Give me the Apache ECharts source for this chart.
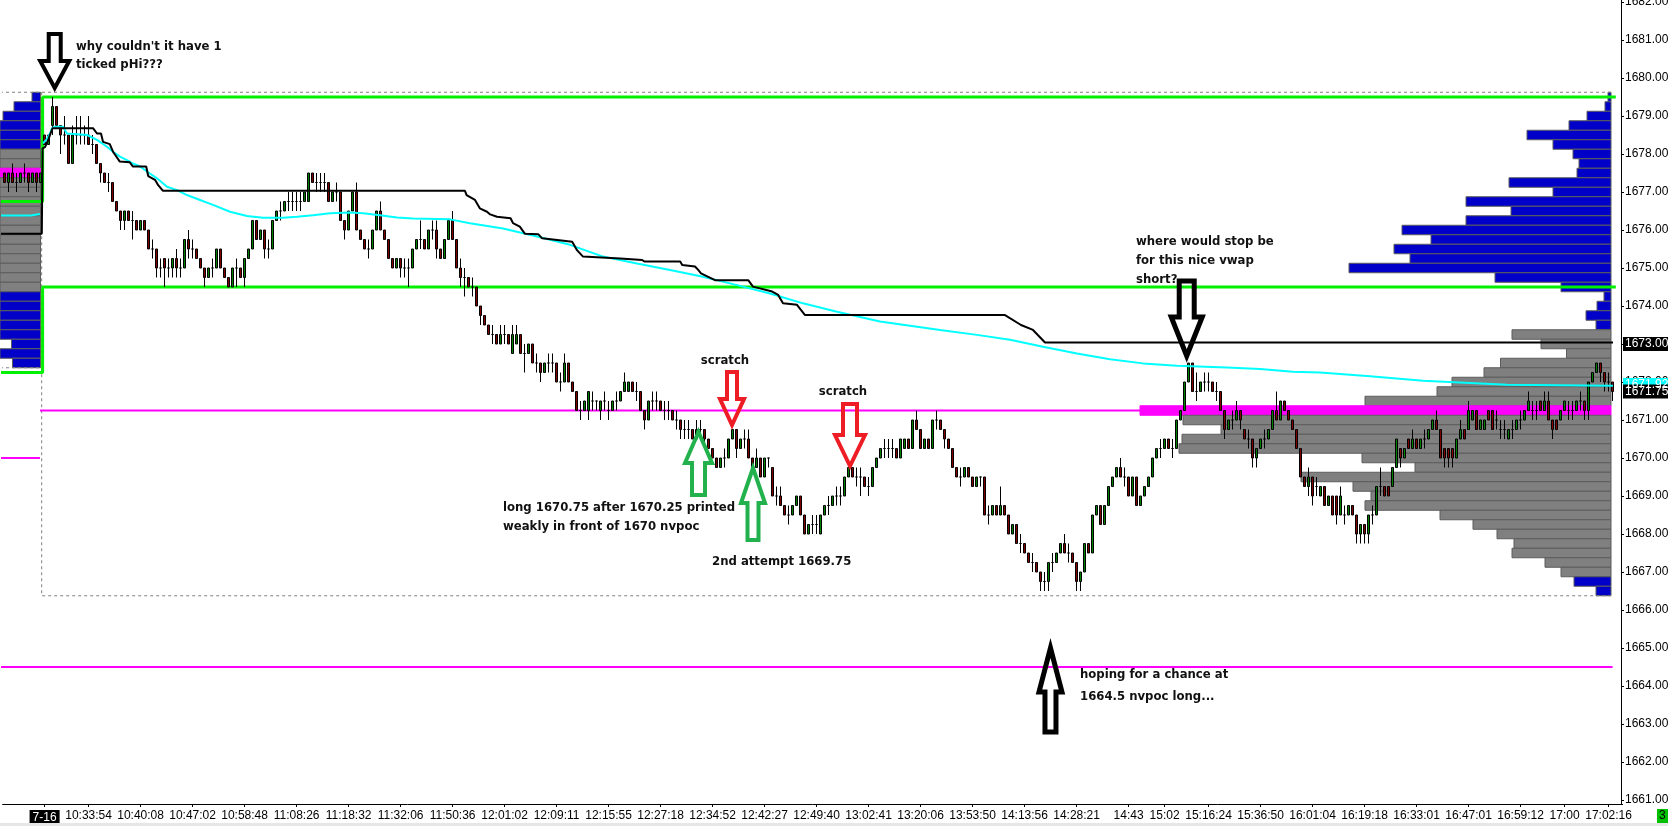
<!DOCTYPE html>
<html><head><meta charset="utf-8">
<script src="https://cdn.jsdelivr.net/npm/echarts/dist/echarts.min.js"></script>
<style>html,body{margin:0;padding:0;background:#fff;overflow:hidden}#c{width:1668px;height:826px}</style>
</head><body><div id="c"></div>
<script>
// ---- DATA ----
// candles [open, close, low, high], one per tick-bar slot (index 0..402)
const candles = [
[1677.5,1677.25,1677.25,1677.5],[1677.25,1677.5,1677.0,1677.5],[1677.5,1677.25,1677.25,1677.75],[1677.25,1677.25,1677.0,1677.5],[1677.25,1677.5,1677.25,1677.5],
[1677.5,1677.5,1677.25,1677.75],[1677.5,1677.25,1677.0,1677.5],[1677.25,1677.5,1677.25,1677.5],[1677.5,1677.25,1677.0,1677.5],[1677.25,1677.5,1677.25,1677.5],
[1678.5,1678.25,1678.25,1678.5],[1678.25,1678.5,1678.25,1678.5],[1678.75,1679.25,1678.5,1679.5],[1679.25,1678.75,1678.75,1679.25],[1678.75,1678.5,1678.0,1678.75],
[1678.5,1678.5,1678.25,1679.0],[1678.5,1677.75,1677.75,1678.5],[1677.75,1678.5,1677.75,1678.75],[1678.5,1678.5,1678.25,1679.0],[1678.5,1678.5,1678.25,1679.0],
[1678.5,1678.5,1678.25,1678.75],[1678.5,1678.25,1678.25,1679.0],[1678.25,1678.25,1678.0,1678.5],[1678.25,1677.75,1677.75,1678.25],[1677.75,1677.5,1677.25,1677.75],
[1677.5,1677.25,1677.25,1677.5],[1677.25,1677.25,1677.0,1677.5],[1677.25,1676.75,1676.75,1677.25],[1676.75,1676.5,1676.5,1676.75],[1676.5,1676.25,1676.0,1676.5],
[1676.25,1676.5,1676.0,1676.5],[1676.5,1676.25,1676.25,1676.5],[1676.25,1676.25,1675.75,1676.5],[1676.25,1676.0,1676.0,1676.25],[1676.0,1676.25,1676.0,1676.25],
[1676.25,1676.0,1676.0,1676.25],[1676.0,1675.5,1675.5,1676.0],[1675.5,1675.5,1675.25,1675.75],[1675.5,1675.0,1674.75,1675.5],[1675.0,1675.0,1674.75,1675.25],
[1675.25,1675.0,1674.5,1675.25],[1675.0,1675.0,1674.75,1675.25],[1675.0,1675.25,1674.75,1675.25],[1675.25,1675.0,1674.75,1675.5],[1675.0,1675.0,1674.75,1675.25],
[1675.0,1675.75,1675.0,1675.75],[1675.75,1675.5,1675.25,1676.0],[1675.5,1675.5,1675.25,1675.75],[1675.5,1675.25,1675.25,1675.5],[1675.25,1675.0,1675.0,1675.25],
[1675.0,1674.75,1674.5,1675.0],[1674.75,1675.0,1674.75,1675.0],[1675.0,1675.0,1674.75,1675.25],[1675.0,1675.5,1675.0,1675.5],[1675.5,1675.0,1675.0,1675.5],
[1675.0,1674.75,1674.75,1675.0],[1674.75,1674.5,1674.5,1674.75],[1674.5,1675.0,1674.5,1675.0],[1675.0,1675.0,1674.5,1675.25],[1675.0,1674.75,1674.75,1675.0],
[1674.75,1675.25,1674.5,1675.25],[1675.25,1675.5,1675.25,1675.5],[1675.5,1676.25,1675.5,1676.25],[1676.25,1675.75,1675.75,1676.25],[1675.75,1676.0,1675.75,1676.0],
[1676.0,1675.5,1675.25,1676.0],[1675.5,1675.5,1675.25,1675.75],[1675.5,1676.25,1675.5,1676.25],[1676.25,1676.5,1676.25,1676.5],[1676.5,1676.5,1676.25,1676.75],
[1676.5,1676.75,1676.5,1676.75],[1676.75,1676.75,1676.5,1677.0],[1676.75,1676.75,1676.5,1677.0],[1676.75,1676.75,1676.5,1677.0],[1676.75,1676.75,1676.5,1677.0],
[1676.75,1677.0,1676.75,1677.0],[1676.75,1677.5,1676.75,1677.5],[1677.5,1677.25,1677.25,1677.5],[1677.25,1677.25,1677.0,1677.5],[1677.25,1677.25,1677.0,1677.5],
[1677.25,1677.25,1677.0,1677.5],[1677.25,1676.75,1676.75,1677.25],[1676.75,1677.0,1676.75,1677.0],[1677.0,1677.0,1676.75,1677.25],[1677.0,1676.25,1676.25,1677.0],
[1676.25,1676.0,1675.75,1676.25],[1676.0,1676.5,1676.0,1676.5],[1676.5,1677.0,1676.5,1677.0],[1677.0,1676.0,1676.0,1677.25],[1676.0,1675.75,1675.75,1676.0],
[1675.75,1675.5,1675.5,1675.75],[1675.5,1675.5,1675.25,1675.75],[1675.5,1676.0,1675.5,1676.0],[1676.0,1676.5,1676.0,1676.5],[1676.5,1676.0,1676.0,1676.75],
[1676.0,1675.75,1675.75,1676.0],[1675.75,1675.25,1675.25,1675.75],[1675.25,1675.0,1675.0,1675.25],[1675.0,1675.25,1675.0,1675.25],[1675.25,1675.0,1674.75,1675.25],
[1675.0,1675.0,1674.75,1675.25],[1675.0,1675.0,1674.5,1675.25],[1675.0,1675.5,1675.0,1675.5],[1675.5,1675.75,1675.5,1675.75],[1675.75,1675.75,1675.5,1676.25],
[1675.75,1675.5,1675.5,1675.75],[1675.5,1676.0,1675.5,1676.0],[1676.0,1676.0,1675.75,1676.25],[1676.0,1675.5,1675.25,1676.25],[1675.5,1675.25,1675.25,1675.5],
[1675.25,1675.75,1675.25,1675.75],[1675.75,1676.25,1675.75,1676.25],[1676.25,1675.75,1675.75,1676.5],[1675.75,1675.0,1675.0,1675.75],[1675.0,1674.75,1674.5,1675.25],
[1674.75,1674.75,1674.25,1675.0],[1674.75,1674.5,1674.5,1674.75],[1674.5,1674.5,1674.25,1674.75],[1674.5,1674.0,1674.0,1674.5],[1674.0,1673.75,1673.5,1674.0],
[1673.75,1673.5,1673.5,1673.75],[1673.5,1673.25,1673.25,1673.5],[1673.25,1673.25,1673.0,1673.5],[1673.25,1673.0,1673.0,1673.25],[1673.0,1673.25,1673.0,1673.5],
[1673.25,1673.25,1673.0,1673.5],[1673.25,1673.0,1673.0,1673.25],[1672.75,1673.25,1672.75,1673.5],[1673.0,1673.25,1673.0,1673.5],[1673.25,1672.75,1672.75,1673.25],
[1672.75,1672.75,1672.25,1673.0],[1672.75,1673.0,1672.75,1673.0],[1673.0,1672.5,1672.5,1673.0],[1672.5,1672.5,1672.25,1672.75],[1672.5,1672.25,1672.0,1672.5],
[1672.25,1672.5,1672.25,1672.5],[1672.5,1672.5,1672.25,1672.75],[1672.5,1672.5,1672.25,1672.75],[1672.5,1672.0,1672.0,1672.5],[1672.0,1672.0,1671.75,1672.25],
[1672.0,1672.5,1672.0,1672.75],[1672.5,1672.0,1672.0,1672.5],[1672.0,1671.75,1671.75,1672.0],[1671.75,1671.25,1671.25,1671.75],[1671.25,1671.25,1671.0,1671.5],
[1671.25,1671.5,1671.25,1671.5],[1671.25,1671.75,1671.0,1671.75],[1671.5,1671.5,1671.25,1671.75],[1671.5,1671.5,1671.25,1671.5],[1671.25,1671.5,1671.0,1671.5],
[1671.5,1671.5,1671.25,1671.75],[1671.25,1671.25,1671.0,1671.5],[1671.25,1671.5,1671.25,1671.5],[1671.5,1671.5,1671.25,1671.75],[1671.5,1671.75,1671.5,1671.75],
[1671.75,1672.0,1671.75,1672.25],[1671.75,1672.0,1671.75,1672.0],[1672.0,1671.75,1671.75,1672.0],[1671.75,1671.75,1671.5,1672.0],[1671.75,1671.25,1671.25,1671.75],
[1671.25,1671.0,1670.75,1671.25],[1671.0,1671.5,1671.0,1671.5],[1671.5,1671.5,1671.25,1671.75],[1671.5,1671.5,1671.25,1671.75],[1671.5,1671.25,1671.25,1671.5],
[1671.25,1671.25,1671.0,1671.5],[1671.25,1671.25,1671.0,1671.5],[1671.25,1671.0,1671.0,1671.25],[1671.0,1671.0,1670.75,1671.25],[1671.0,1670.75,1670.5,1671.0],
[1670.75,1670.75,1670.5,1671.0],[1670.75,1670.75,1670.5,1671.0],[1670.75,1670.5,1670.5,1670.75],[1670.5,1670.75,1670.5,1671.0],[1670.75,1670.75,1670.5,1671.0],
[1670.75,1670.5,1670.25,1670.75],[1670.5,1670.25,1670.25,1670.5],[1670.25,1670.0,1670.0,1670.25],[1670.0,1669.75,1669.75,1670.0],[1669.75,1670.0,1669.75,1670.0],
[1670.0,1670.0,1669.75,1670.25],[1670.0,1670.5,1670.0,1670.5],[1670.5,1670.75,1670.5,1670.75],[1670.75,1670.25,1670.0,1670.75],[1670.25,1670.5,1670.25,1670.5],
[1670.5,1670.5,1670.25,1670.75],[1670.5,1670.0,1670.0,1670.75],[1670.0,1669.75,1669.75,1670.0],[1669.75,1670.0,1669.75,1670.25],[1670.0,1669.5,1669.5,1670.0],
[1669.5,1670.0,1669.5,1670.0],[1670.0,1670.0,1669.75,1670.0],[1669.75,1669.0,1669.0,1669.75],[1669.0,1669.0,1668.75,1669.25],[1669.0,1668.75,1668.75,1669.25],
[1668.75,1668.5,1668.5,1668.75],[1668.5,1668.5,1668.25,1668.75],[1668.5,1668.75,1668.5,1668.75],[1668.75,1669.0,1668.75,1669.0],[1669.0,1668.5,1668.5,1669.0],
[1668.5,1668.0,1668.0,1668.5],[1668.0,1668.25,1668.0,1668.25],[1668.25,1668.25,1668.0,1668.5],[1668.25,1668.25,1668.0,1668.5],[1668.0,1668.5,1668.0,1668.5],
[1668.5,1668.75,1668.5,1668.75],[1668.75,1668.75,1668.5,1669.0],[1668.75,1669.0,1668.75,1669.0],[1669.0,1669.0,1668.75,1669.25],[1669.0,1669.0,1668.75,1669.25],
[1669.0,1669.5,1669.0,1669.5],[1669.5,1669.75,1669.5,1669.75],[1669.75,1669.5,1669.5,1669.75],[1669.5,1669.5,1669.25,1669.75],[1669.5,1669.5,1669.0,1669.75],
[1669.5,1669.25,1669.25,1669.5],[1669.25,1669.25,1669.0,1669.5],[1669.25,1669.75,1669.25,1669.75],[1669.75,1670.0,1669.75,1670.0],[1670.0,1670.25,1670.0,1670.25],
[1670.25,1670.25,1670.0,1670.5],[1670.25,1670.25,1670.0,1670.5],[1670.25,1670.25,1670.0,1670.5],[1670.25,1670.0,1670.0,1670.25],[1670.0,1670.5,1670.0,1670.5],
[1670.25,1670.5,1670.25,1670.5],[1670.5,1670.25,1670.25,1670.5],[1670.25,1671.0,1670.25,1671.0],[1671.0,1670.75,1670.75,1671.25],[1670.75,1670.25,1670.25,1670.75],
[1670.25,1670.5,1670.25,1670.5],[1670.5,1670.25,1670.25,1670.5],[1670.25,1671.0,1670.25,1671.0],[1671.0,1671.0,1670.75,1671.25],[1671.0,1670.75,1670.75,1671.0],
[1670.75,1670.5,1670.25,1670.75],[1670.5,1670.25,1670.25,1670.5],[1670.25,1669.75,1669.75,1670.25],[1669.75,1669.5,1669.5,1669.75],[1669.5,1669.5,1669.25,1669.75],
[1669.5,1669.75,1669.5,1669.75],[1669.75,1669.5,1669.5,1669.75],[1669.5,1669.25,1669.25,1669.5],[1669.25,1669.5,1669.25,1669.5],[1669.5,1669.5,1669.25,1669.5],
[1669.5,1668.5,1668.5,1669.5],[1668.5,1668.5,1668.25,1668.75],[1668.5,1668.75,1668.5,1668.75],[1668.75,1668.5,1668.5,1668.75],[1668.5,1668.75,1668.5,1669.25],
[1668.75,1668.5,1668.5,1668.75],[1668.5,1668.0,1668.0,1668.5],[1668.0,1668.25,1668.0,1668.25],[1668.25,1667.75,1667.75,1668.25],[1667.75,1667.75,1667.5,1668.0],
[1667.75,1667.5,1667.5,1667.75],[1667.5,1667.25,1667.25,1667.5],[1667.25,1667.25,1667.0,1667.5],[1667.25,1667.0,1667.0,1667.25],[1667.0,1666.75,1666.5,1667.0],
[1666.75,1666.75,1666.5,1667.0],[1666.75,1667.25,1666.5,1667.25],[1667.25,1667.25,1667.0,1667.5],[1667.25,1667.5,1667.25,1667.5],[1667.5,1667.75,1667.5,1667.75],
[1667.75,1667.5,1667.5,1668.0],[1667.5,1667.5,1667.25,1667.75],[1667.5,1667.25,1667.25,1667.5],[1667.25,1666.75,1666.5,1667.25],[1666.75,1667.0,1666.5,1667.0],
[1667.0,1667.75,1667.0,1667.75],[1667.75,1667.5,1667.5,1667.75],[1667.5,1668.5,1667.5,1668.5],[1668.5,1668.75,1668.5,1668.75],[1668.75,1668.25,1668.25,1668.75],
[1668.25,1668.75,1668.25,1668.75],[1668.75,1669.25,1668.75,1669.25],[1669.25,1669.5,1669.25,1669.5],[1669.5,1669.75,1669.5,1669.75],[1669.75,1669.5,1669.5,1670.0],
[1669.5,1669.5,1669.25,1669.75],[1669.5,1669.0,1669.0,1669.5],[1669.0,1669.5,1669.0,1669.5],[1669.5,1668.75,1668.75,1669.5],[1668.75,1669.0,1668.75,1669.0],
[1669.0,1669.25,1669.0,1669.25],[1669.25,1669.5,1669.25,1669.5],[1669.5,1670.0,1669.5,1670.0],[1670.0,1670.25,1670.0,1670.25],[1670.25,1670.25,1670.0,1670.5],
[1670.25,1670.5,1670.25,1670.5],[1670.5,1670.25,1670.25,1670.5],[1670.25,1670.25,1670.0,1670.5],[1670.25,1671.0,1670.25,1671.0],[1671.0,1671.25,1671.0,1671.25],
[1671.25,1672.0,1671.25,1672.0],[1672.0,1672.5,1672.0,1672.5],[1672.5,1671.75,1671.75,1672.5],[1671.75,1671.75,1671.5,1672.25],[1671.75,1672.0,1671.75,1672.0],
[1672.0,1672.0,1671.75,1672.25],[1672.0,1672.0,1671.75,1672.25],[1672.0,1671.75,1671.75,1672.0],[1671.75,1671.75,1671.5,1672.0],[1671.75,1671.25,1671.25,1671.75],
[1671.25,1670.75,1670.5,1671.25],[1670.75,1671.0,1670.75,1671.0],[1671.0,1671.0,1670.75,1671.25],[1671.0,1671.25,1671.0,1671.5],[1671.25,1671.0,1670.75,1671.25],
[1670.75,1670.5,1670.5,1670.75],[1670.5,1670.5,1670.25,1670.75],[1670.5,1670.0,1669.75,1670.5],[1670.0,1670.25,1669.75,1670.25],[1670.25,1670.5,1670.25,1670.5],
[1670.5,1670.5,1670.25,1670.75],[1670.5,1670.75,1670.5,1670.75],[1670.75,1671.25,1670.75,1671.25],[1671.25,1671.0,1671.0,1671.75],[1671.0,1671.5,1671.0,1671.5],
[1671.5,1671.25,1671.25,1671.5],[1671.25,1671.0,1671.0,1671.25],[1671.0,1670.75,1670.75,1671.0],[1670.75,1670.25,1670.25,1670.75],[1670.25,1669.5,1669.5,1670.25],
[1669.5,1669.25,1669.25,1669.5],[1669.25,1669.5,1669.0,1669.75],[1669.5,1669.0,1668.75,1669.5],[1669.25,1669.25,1669.0,1669.5],[1669.0,1669.25,1669.0,1669.25],
[1669.25,1668.75,1668.75,1669.25],[1668.75,1669.0,1668.75,1669.0],[1669.0,1668.5,1668.5,1669.0],[1669.0,1668.5,1668.25,1669.0],[1668.5,1669.0,1668.5,1669.25],
[1668.5,1668.5,1668.25,1668.75],[1668.5,1668.75,1668.5,1668.75],[1668.75,1668.5,1668.5,1668.75],[1668.5,1668.0,1667.75,1668.5],[1668.0,1668.25,1667.75,1668.25],
[1668.25,1668.0,1667.75,1668.25],[1668.0,1668.5,1667.75,1668.5],[1668.5,1668.5,1668.25,1668.75],[1668.5,1669.25,1668.5,1669.25],[1669.25,1669.25,1669.0,1669.75],
[1669.25,1669.0,1669.0,1669.25],[1669.25,1669.0,1669.0,1669.25],[1669.25,1669.75,1669.25,1669.75],[1669.75,1670.5,1669.75,1670.5],[1670.25,1670.0,1669.75,1670.25],
[1670.0,1670.25,1670.0,1670.25],[1670.5,1670.25,1670.25,1670.5],[1670.25,1670.5,1670.25,1670.75],[1670.5,1670.25,1670.25,1670.5],[1670.25,1670.5,1670.25,1670.5],
[1670.5,1670.5,1670.25,1670.75],[1670.5,1670.75,1670.5,1670.75],[1670.75,1671.0,1670.75,1671.0],[1671.0,1670.75,1670.75,1671.25],[1670.75,1670.0,1670.0,1670.75],
[1670.25,1670.0,1669.75,1670.25],[1670.25,1670.0,1669.75,1670.25],[1670.25,1670.0,1669.75,1670.25],[1670.0,1670.5,1670.0,1670.5],[1670.5,1670.75,1670.5,1671.0],
[1670.75,1670.5,1670.5,1670.75],[1670.75,1671.25,1670.75,1671.5],[1671.0,1671.25,1671.0,1671.25],[1671.25,1670.75,1670.75,1671.25],[1670.75,1671.0,1670.75,1671.0],
[1670.75,1671.0,1670.75,1671.0],[1671.25,1671.0,1671.0,1671.25],[1671.25,1670.75,1670.75,1671.25],[1671.0,1671.0,1670.75,1671.25],[1670.75,1670.75,1670.5,1671.0],
[1670.75,1670.75,1670.5,1671.0],[1670.5,1670.75,1670.5,1670.75],[1670.75,1670.75,1670.5,1671.0],[1670.75,1671.0,1670.75,1671.0],[1671.0,1671.0,1670.75,1671.25],
[1671.0,1671.25,1671.0,1671.25],[1671.25,1671.5,1671.25,1671.75],[1671.25,1671.25,1671.0,1671.5],[1671.25,1671.25,1671.0,1671.5],[1671.5,1671.25,1671.25,1671.5],
[1671.25,1671.5,1671.25,1671.75],[1671.5,1671.0,1671.0,1671.75],[1671.0,1670.75,1670.5,1671.0],[1671.0,1670.75,1670.75,1671.0],[1671.0,1671.25,1671.0,1671.25],
[1671.25,1671.5,1671.25,1671.5],[1671.25,1671.25,1671.0,1671.5],[1671.25,1671.25,1671.0,1671.5],[1671.25,1671.5,1671.25,1671.5],[1671.5,1671.5,1671.25,1671.75],
[1671.5,1671.25,1671.0,1671.5],[1671.25,1672.0,1671.0,1672.0],[1672.0,1672.25,1672.0,1672.25],[1672.25,1672.5,1672.25,1672.5],[1672.5,1672.25,1672.0,1672.5],
[1672.25,1672.0,1671.75,1672.25],[1672.0,1672.0,1671.75,1672.25],[1672.0,1671.75,1671.5,1672.0]
];
const slotCount = 405;

// time-axis tick labels and the bar slot each one sits on
const timeLabels = ['7-16','10:33:54','10:40:08','10:47:02','10:58:48','11:08:26','11:18:32','11:32:06','11:50:36','12:01:02','12:09:11','12:15:55','12:27:18','12:34:52','12:42:27','12:49:40','13:02:41','13:20:06','13:53:50','14:13:56','14:28:21','14:43','15:02','15:16:24','15:36:50','16:01:04','16:19:18','16:33:01','16:47:01','16:59:12','17:00','17:02:16'];
const timeLabelSlots = [10,21,34,47,60,73,86,99,112,125,138,151,164,177,190,203,216,229,242,255,268,281,290,301,314,327,340,353,366,379,390,401];
// price-axis tick labels
const priceTicks = [1661,1662,1663,1664,1665,1666,1667,1668,1669,1670,1671,1672,1673,1674,1675,1676,1677,1678,1679,1680,1681,1682];

// volume profiles [price, volume]
const profileToday = [[1679.5,30],[1679.25,60],[1679.0,240],[1678.75,420],[1678.5,840],[1678.25,580],[1678.0,380],[1677.75,320],[1677.5,340],[1677.25,1020],[1677.0,580],[1676.75,1450],[1676.5,1000],[1676.25,1450],[1676.0,2090],[1675.75,1800],[1675.5,2170],[1675.25,2010],[1675.0,2620],[1674.75,1160],[1674.5,500],[1674.25,70],[1674.0,140],[1673.75,250],[1673.5,150],[1673.25,990],[1673.0,700],[1672.75,445],[1672.5,1105],[1672.25,1270],[1672.0,1590],[1671.75,1740],[1671.5,2460],[1671.25,4710],[1671.0,4280],[1670.75,3900],[1670.5,4290],[1670.25,4320],[1670.0,2490],[1669.75,1960],[1669.5,3100],[1669.25,2580],[1669.0,2400],[1668.75,2460],[1668.5,1710],[1668.25,1380],[1668.0,1140],[1667.75,970],[1667.5,990],[1667.25,660],[1667.0,500],[1666.75,370],[1666.5,150]];
const profilePrev = [[1679.5,85],[1679.25,265],[1679.0,375],[1678.75,520],[1678.5,610],[1678.25,560],[1678.0,700],[1677.75,820],[1677.5,1150],[1677.25,900],[1677.0,860],[1676.75,780],[1676.5,760],[1676.25,720],[1676.0,800],[1675.75,740],[1675.5,690],[1675.25,650],[1675.0,700],[1674.75,620],[1674.5,580],[1674.25,520],[1674.0,480],[1673.75,470],[1673.5,440],[1673.25,420],[1673.0,290],[1672.75,410],[1672.5,280]];
const todayValueArea = [1667.0, 1673.25], todayPoc = 1671.25;
const prevValueArea = [1674.5, 1678.0], prevPoc = 1677.5;

// indicator lines [slot, price]
const vwapPrev = [[-1.15,1676.38],[6.6,1676.38],[6.85,1676.42],[8.85,1676.42]];
const vwap = [[9.6,1678.28],[10.6,1678.4],[11.35,1678.54],[11.85,1678.68],[12.6,1678.72],[14.6,1678.72],[15.6,1678.54],[20.6,1678.5],[23.1,1678.37],[25.6,1678.19],[27.1,1678.06],[28.85,1677.93],[30.6,1677.84],[32.1,1677.75],[33.85,1677.67],[35.6,1677.54],[38.1,1677.36],[40.6,1677.14],[43.1,1677.05],[45.6,1676.92],[48.85,1676.79],[52.1,1676.66],[56.35,1676.48],[60.6,1676.37],[64.6,1676.32],[69.6,1676.32],[73.1,1676.35],[77.1,1676.39],[81.35,1676.44],[86.35,1676.46],[89.6,1676.44],[93.85,1676.39],[98.1,1676.33],[102.1,1676.3],[111.35,1676.28],[116.35,1676.18],[124.6,1676.04],[133.1,1675.83],[141.35,1675.61],[149.6,1675.3],[158.1,1675.12],[166.35,1674.95],[174.6,1674.77],[183.1,1674.55],[191.35,1674.33],[199.6,1674.07],[208.1,1673.85],[218.85,1673.59],[233.85,1673.37],[243.1,1673.24],[251.35,1673.11],[259.6,1672.93],[268.1,1672.75],[276.35,1672.6],[284.6,1672.49],[293.1,1672.43],[305.6,1672.38],[313.85,1672.34],[322.1,1672.27],[328.85,1672.25],[341.35,1672.15],[354.6,1672.03],[375.6,1671.93],[402.1,1671.9]];
const blackLine = [[-1.15,1675.9],[9.3,1675.9],[9.5,1678.15],[10.1,1678.18],[11.0,1678.4],[11.7,1678.6],[12.0,1678.68],[22.1,1678.68],[23.1,1678.54],[24.1,1678.54],[24.6,1678.32],[26.3,1678.26],[27.1,1678.06],[28.8,1677.8],[31.3,1677.78],[32.1,1677.67],[35.4,1677.67],[35.9,1677.42],[37.6,1677.32],[38.4,1677.18],[39.6,1677.03],[115.1,1677.03],[115.5,1676.92],[117.6,1676.79],[118.8,1676.57],[120.6,1676.48],[121.4,1676.41],[123.1,1676.35],[126.5,1676.31],[127.1,1676.18],[128.8,1676.09],[130.1,1675.9],[133.4,1675.89],[134.4,1675.78],[141.9,1675.69],[143.1,1675.47],[144.6,1675.3],[153.9,1675.25],[159.4,1675.21],[160.0,1675.17],[168.9,1675.17],[169.4,1675.08],[172.6,1675.04],[173.4,1674.95],[174.1,1674.86],[177.6,1674.68],[185.9,1674.68],[187.1,1674.51],[191.9,1674.38],[193.4,1674.29],[194.6,1674.07],[198.1,1674.03],[200.1,1673.76],[250.1,1673.76],[254.1,1673.5],[257.1,1673.37],[260.1,1673.04],[402.1,1673.04]];
const vaHighLine = [[-1.15,1676.75],[9.5,1676.75],[9.5,1679.5],[402.8,1679.5]];
const vaLowLine = [[-1.15,1672.25],[9.5,1672.25],[9.5,1674.5],[402.8,1674.5]];
// magenta levels [fromSlot, toSlot, price]
const magentaLevels = [[8.85,283.85,1671.25],[-1.15,8.85,1670.0],[-1.15,402.0,1664.5]];
// dashed session range boxes (polylines)
const rangeBoxes = [[[-1.15,1679.625],[401.6,1679.625]],[[-1.15,1672.375],[9.27,1672.375]],[[9.27,1679.625],[9.27,1666.375],[401.6,1666.375]]];

// annotations
const notes = [
  {at:[17.85,1680.82], text:"why couldn't it have 1\nticked pHi???", lh:18, align:'left'},
  {at:[180.1,1672.55], text:"scratch", lh:18, align:'center'},
  {at:[209.6,1671.74], text:"scratch", lh:18, align:'center'},
  {at:[124.6,1668.68], text:"long 1670.75 after 1670.25 printed\nweakly in front of 1670 nvpoc", lh:19, align:'left'},
  {at:[176.85,1667.26], text:"2nd attempt 1669.75", lh:18, align:'left'},
  {at:[282.85,1675.68], text:"where would stop be\nfor this nice vwap\nshort?", lh:19, align:'left'},
  {at:[268.85,1664.29], text:"hoping for a chance at\n1664.5 nvpoc long...", lh:22, align:'left'}
];
const arrows = [
  {tip:[12.53,1679.737], dir:'down', w:29, sw:12, hh:27, len:54, color:'#000000', lw:4},
  {tip:[181.85,1670.868], dir:'down', w:24, sw:10, hh:26, len:53, color:'#ee1c24', lw:4},
  {tip:[211.35,1669.789], dir:'down', w:30, sw:14, hh:31, len:62, color:'#ee1c24', lw:4},
  {tip:[173.48,1670.684], dir:'up', w:27, sw:13, hh:31, len:63, color:'#22b14c', lw:4},
  {tip:[187.1,1669.737], dir:'up', w:24, sw:11, hh:35, len:72, color:'#22b14c', lw:4},
  {tip:[295.53,1672.684], dir:'down', w:31, sw:15, hh:39, len:75, color:'#000000', lw:5},
  {tip:[261.47,1665.0], dir:'up', w:23, sw:11, hh:44, len:84, color:'#000000', lw:5}
];
const priceTags = [{p:1671.92, text:'1671.92', bg:'#00ffff'},{p:1673.0, text:'1673.000', bg:'#000000'},{p:1671.75, text:'1671.75', bg:'#000000'}];

// ---- CHART ----
const chart = echarts.init(document.getElementById('c'), null, {renderer:'canvas', width:1668, height:826});
const cats = Array.from({length: slotCount}, (_, i) => String(i));
const labelMap = {};
timeLabelSlots.forEach((s, k) => labelMap[s] = timeLabels[k]);
const isLabel = (idx) => labelMap[idx] !== undefined;
const PMIN = 1661, PMAX = 1682;
const G = {outerBoundsMode:'none', containLabel:false};

function profileRender(va, poc) {
  return function (params, api) {
    const p = api.value(0), v = api.value(1);
    const a = api.coord([0, p + 0.125]);
    const b = api.coord([v, p - 0.125]);
    const cs = params.coordSys;
    const x2 = Math.max(a[0], b[0]);
    const x1 = Math.max(Math.min(a[0], b[0]), cs.x);
    const isPoc = Math.abs(p - poc) < 1e-6;
    const fill = isPoc ? '#ff00ff' : ((p >= va[0] && p <= va[1]) ? '#808080' : '#0000c8');
    return {type:'rect', shape:{x:x1, y:Math.min(a[1], b[1]), width:x2 - x1, height:Math.abs(b[1] - a[1])},
      style:{fill:fill, stroke: isPoc ? '#ff00ff' : '#5c5c5c', lineWidth:1}};
  };
}
function seg(id, pts, color, width, dash, z) {
  return {type:'line', id:id, xAxisIndex:1, yAxisIndex:0, data:pts, symbol:'none', showSymbol:false,
    clip:false, silent:true, animation:false, z:z, lineStyle:{color:color, width:width, type:dash || 'solid'}};
}

const series = [
  {type:'custom', id:'profToday', xAxisIndex:4, yAxisIndex:3, data:profileToday, renderItem:profileRender(todayValueArea, todayPoc), z:1, silent:true, animation:false},
  {type:'custom', id:'profPrev', xAxisIndex:5, yAxisIndex:4, data:profilePrev, renderItem:profileRender(prevValueArea, prevPoc), z:1, silent:true, animation:false}
];
rangeBoxes.forEach((b, k) => series.push(seg('box' + k, b, '#808080', 1, [3, 3], 2)));
series.push(seg('vaH', vaHighLine, '#00f000', 3, null, 3));
series.push(seg('vaL', vaLowLine, '#00f000', 3, null, 3));
magentaLevels.forEach((m, k) => series.push(seg('mag' + k, [[m[0], m[2]], [m[1], m[2]]], '#ff00ff', 2, null, 3)));
series.push({type:'candlestick', id:'px', xAxisIndex:0, yAxisIndex:0, data:candles, barWidth:3, large:false, z:5, silent:true, animation:false,
  itemStyle:{color:'#008000', color0:'#800000', borderColor:'#000', borderColor0:'#000', borderColorDoji:'#000', borderWidth:1}});
series.push(seg('vwapPrev', vwapPrev, '#00ffff', 2, null, 6));
series.push(seg('vwap', vwap, '#00ffff', 2, null, 6));
series.push(seg('black', blackLine, '#000000', 2, null, 6));

const option = {
  backgroundColor:'#ffffff',
  animation:false,
  grid:[
    Object.assign({left:2.6, top:2, width:1620, height:798}, G),
    Object.assign({left:0, top:0, width:1621, height:804}, G),
    Object.assign({left:2.6, top:790, width:1620, height:14}, G),
    Object.assign({left:0, top:2, width:1611, height:798}, G),
    Object.assign({left:0, top:2, width:40.5, height:798}, G)
  ],
  xAxis:[
    {type:'category', gridIndex:0, data:cats, boundaryGap:true, show:false},
    {type:'value', gridIndex:0, min:-0.5, max:slotCount - 0.5, show:false, position:'top'},
    {type:'value', gridIndex:1, min:0, max:1, show:false},
    {type:'category', gridIndex:2, data:cats, boundaryGap:true, position:'bottom',
      axisLine:{show:true, onZero:false, lineStyle:{color:'#000', width:1}},
      axisTick:{show:true, interval:(i) => isLabel(i), alignWithLabel:true, length:3, lineStyle:{color:'#000'}},
      axisLabel:{show:true, interval:(i) => isLabel(i), hideOverlap:false, margin:6, color:'#000', fontSize:12, fontFamily:'Liberation Sans',
        formatter:(v) => { const t = labelMap[Number(v)]; return t === '7-16' ? '{b|7-16}' : (t || ''); },
        rich:{b:{backgroundColor:'#000', color:'#fff', fontSize:12, fontFamily:'Liberation Sans', padding:[2,3,1,3]}}},
      splitLine:{show:false}},
    {type:'value', gridIndex:3, min:0, max:16110, inverse:true, show:false},
    {type:'value', gridIndex:4, min:0, max:405, inverse:true, show:false}
  ],
  yAxis:[
    {type:'value', gridIndex:0, min:PMIN, max:PMAX, show:false},
    // display axis: same 38 px per point scale, spanning the full plot height (0..804)
    {type:'value', gridIndex:1, min:PMIN - 4/38, max:PMAX + 2/38, position:'right',
      axisLine:{show:true, onZero:false, lineStyle:{color:'#000', width:1}},
      axisTick:{show:true, length:3, lineStyle:{color:'#000'}, customValues:priceTicks},
      axisLabel:{show:true, margin:4, color:'#000', fontSize:12, fontFamily:'Liberation Sans', hideOverlap:false,
        customValues:priceTicks, formatter:(v) => Number(v).toFixed(2)},
      splitLine:{show:false}},
    {type:'value', gridIndex:2, min:0, max:1, show:false},
    {type:'value', gridIndex:3, min:PMIN, max:PMAX, show:false},
    {type:'value', gridIndex:4, min:PMIN, max:PMAX, show:false}
  ],
  series:series
};
chart.setOption(option);

// ---- annotations placed through the chart's own scales ----
const toPx = (pt) => chart.convertToPixel({seriesId:'vwap'}, pt);
const yPx = (p) => chart.convertToPixel({yAxisIndex:0}, p);
const g = [];
arrows.forEach((a) => {
  const t = toPx(a.tip), tx = t[0], ty = t[1], s = a.dir === 'down' ? -1 : 1;
  const pts = [[tx - a.sw/2, ty + s*a.len],[tx + a.sw/2, ty + s*a.len],[tx + a.sw/2, ty + s*a.hh],[tx + a.w/2, ty + s*a.hh],[tx, ty],[tx - a.w/2, ty + s*a.hh],[tx - a.sw/2, ty + s*a.hh]];
  g.push({type:'polygon', z:20, silent:true, shape:{points:pts}, style:{fill:'rgba(0,0,0,0)', stroke:a.color, lineWidth:a.lw, lineJoin:'miter'}});
});
notes.forEach((n) => {
  const q = toPx(n.at);
  g.push({type:'text', z:21, silent:true, x:q[0], y:q[1] - n.lh/2,
    style:{text:n.text, fill:'#111', font:'bold 11.7px "DejaVu Sans"', align:n.align, textAlign:n.align, verticalAlign:'top', textVerticalAlign:'top', lineHeight:n.lh}});
});
priceTags.forEach((t) => {
  const y = yPx(t.p);
  g.push({type:'rect', z:22, silent:true, shape:{x:1623, y:y - 7, width:45, height:14}, style:{fill:t.bg}});
  g.push({type:'text', z:23, silent:true, x:1625, y:y, style:{text:t.text, fill:'#fff', font:'12px "Liberation Sans"', verticalAlign:'middle', textVerticalAlign:'middle'}});
});
g.push({type:'rect', z:22, silent:true, shape:{x:0, y:823, width:1668, height:3}, style:{fill:'#e6e6e6'}});
g.push({type:'rect', z:22, silent:true, shape:{x:1657, y:809, width:11, height:14}, style:{fill:'#00c000'}});
g.push({type:'text', z:23, silent:true, x:1659, y:816, style:{text:'3', fill:'#000', font:'12px "Liberation Sans"', verticalAlign:'middle', textVerticalAlign:'middle'}});
chart.setOption({graphic:{elements:g}});
</script>
</body></html>
